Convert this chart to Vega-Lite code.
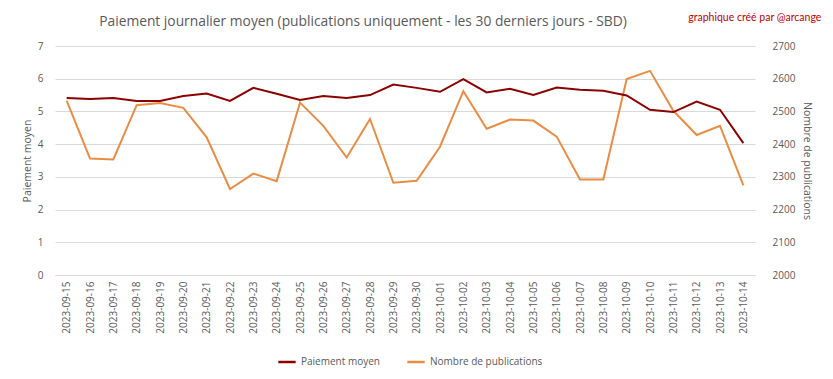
{
  "$schema": "https://vega.github.io/schema/vega-lite/v6.json",
  "width": 700,
  "height": 229,
  "autosize": {"type": "none"},
  "padding": {"left": 55, "top": 46, "right": 78, "bottom": 104},
  "background": "white",
  "title": {
    "text": "Paiement journalier moyen (publications uniquement  - les 30 derniers jours - SBD)",
    "anchor": "middle",
    "dx": -42,
    "offset": -16,
    "font": "Open Sans",
    "fontSize": 13.8,
    "fontWeight": "normal",
    "color": "#595959"
  },
  "config": {
    "font": "Open Sans",
    "view": {"stroke": null},
    "axis": {
      "labelColor": "#595959",
      "titleColor": "#595959",
      "labelFont": "Open Sans",
      "titleFont": "Open Sans",
      "labelFontSize": 10,
      "titleFontSize": 10.5,
      "titleFontWeight": "normal",
      "ticks": false,
      "gridColor": "#D9D9D9",
      "domainColor": "#D9D9D9"
    },
    "legend": {"labelFont": "Open Sans", "labelFontSize": 10, "labelColor": "#595959"}
  },
  "data": {
    "values": [
      {"date": "2023-09-15", "paiement": 5.41, "publications": 2533},
      {"date": "2023-09-16", "paiement": 5.38, "publications": 2356},
      {"date": "2023-09-17", "paiement": 5.41, "publications": 2353},
      {"date": "2023-09-18", "paiement": 5.32, "publications": 2519},
      {"date": "2023-09-19", "paiement": 5.32, "publications": 2526},
      {"date": "2023-09-20", "paiement": 5.47, "publications": 2511},
      {"date": "2023-09-21", "paiement": 5.55, "publications": 2421},
      {"date": "2023-09-22", "paiement": 5.32, "publications": 2263},
      {"date": "2023-09-23", "paiement": 5.72, "publications": 2310},
      {"date": "2023-09-24", "paiement": 5.54, "publications": 2287},
      {"date": "2023-09-25", "paiement": 5.35, "publications": 2527},
      {"date": "2023-09-26", "paiement": 5.47, "publications": 2456},
      {"date": "2023-09-27", "paiement": 5.41, "publications": 2359},
      {"date": "2023-09-28", "paiement": 5.50, "publications": 2477},
      {"date": "2023-09-29", "paiement": 5.82, "publications": 2282},
      {"date": "2023-09-30", "paiement": 5.72, "publications": 2288},
      {"date": "2023-10-01", "paiement": 5.60, "publications": 2392},
      {"date": "2023-10-02", "paiement": 5.99, "publications": 2562},
      {"date": "2023-10-03", "paiement": 5.58, "publications": 2447},
      {"date": "2023-10-04", "paiement": 5.69, "publications": 2475},
      {"date": "2023-10-05", "paiement": 5.50, "publications": 2472},
      {"date": "2023-10-06", "paiement": 5.73, "publications": 2423},
      {"date": "2023-10-07", "paiement": 5.66, "publications": 2292},
      {"date": "2023-10-08", "paiement": 5.63, "publications": 2292},
      {"date": "2023-10-09", "paiement": 5.49, "publications": 2599},
      {"date": "2023-10-10", "paiement": 5.05, "publications": 2624},
      {"date": "2023-10-11", "paiement": 4.98, "publications": 2502},
      {"date": "2023-10-12", "paiement": 5.30, "publications": 2428},
      {"date": "2023-10-13", "paiement": 5.05, "publications": 2456},
      {"date": "2023-10-14", "paiement": 4.03, "publications": 2274}
    ]
  },
  "encoding": {
    "x": {
      "field": "date",
      "type": "ordinal",
      "sort": null,
      "scale": {"type": "point", "padding": 0.5},
      "axis": {"title": null, "labelAngle": -90, "labelPadding": 6, "grid": false, "domain": true}
    }
  },
  "layer": [
    {
      "mark": {"type": "line", "strokeWidth": 2},
      "encoding": {
        "y": {
          "field": "publications",
          "type": "quantitative",
          "scale": {"domain": [2000, 2700], "nice": false, "zero": false},
          "axis": {"orient": "right", "title": "Nombre de publications", "format": "d", "values": [2000, 2100, 2200, 2300, 2400, 2500, 2600, 2700], "grid": false, "domain": false, "labelPadding": 17, "titlePadding": 7}
        },
        "color": {
          "datum": "Nombre de publications",
          "type": "nominal",
          "scale": {"domain": ["Paiement moyen", "Nombre de publications"], "range": ["#8B0000", "#EB8C43"]},
          "legend": {"title": null, "orient": "none", "legendX": 222, "legendY": 306, "direction": "horizontal", "symbolType": "stroke", "symbolStrokeWidth": 2.5, "symbolSize": 300, "columnPadding": 22}
        }
      }
    },
    {
      "mark": {"type": "line", "strokeWidth": 2},
      "encoding": {
        "y": {
          "field": "paiement",
          "type": "quantitative",
          "scale": {"domain": [0, 7], "nice": false},
          "axis": {"orient": "left", "title": "Paiement moyen", "values": [0, 1, 2, 3, 4, 5, 6, 7], "grid": true, "domain": false, "labelPadding": 12, "titlePadding": 5}
        },
        "color": {"datum": "Paiement moyen", "type": "nominal"}
      }
    },
    {
      "data": {"values": [{"credit": "graphique créé par @arcange", "date": "2023-10-14", "level": 7}]},
      "mark": {"type": "text", "align": "right", "baseline": "middle", "dx": 78, "dy": -28, "color": "#C00000", "fontSize": 10.5, "font": "Lato"},
      "encoding": {
        "text": {"field": "credit"},
        "y": {"field": "level", "type": "quantitative", "scale": {"domain": [0, 7], "nice": false}, "axis": null}
      }
    }
  ],
  "resolve": {"scale": {"y": "independent"}}
}
